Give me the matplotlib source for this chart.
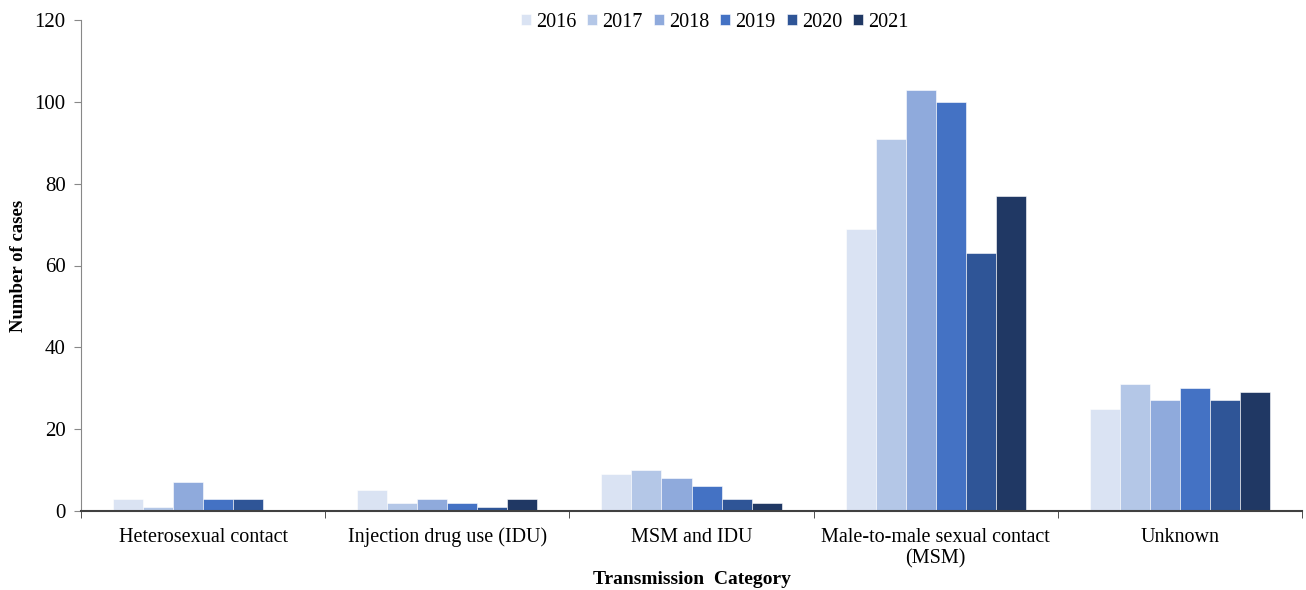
import numpy as np
import matplotlib.pyplot as plt

plt.rcParams["font.family"] = ["Liberation Serif", "DejaVu Serif"]

categories = [
    "Heterosexual contact",
    "Injection drug use (IDU)",
    "MSM and IDU",
    "Male-to-male sexual contact\n(MSM)",
    "Unknown",
]
years = ["2016", "2017", "2018", "2019", "2020", "2021"]
cases_2016 = [3, 5, 9, 69, 25]
cases_2017 = [1, 2, 10, 91, 31]
cases_2018 = [7, 3, 8, 103, 27]
cases_2019 = [3, 2, 6, 100, 30]
cases_2020 = [3, 1, 3, 63, 27]
cases_2021 = [0, 3, 2, 77, 29]
series = [cases_2016, cases_2017, cases_2018, cases_2019, cases_2020, cases_2021]
colors = ["#DAE3F3", "#B4C7E7", "#8FAADC", "#4472C4", "#2F5597", "#203864"]

fig = plt.figure(figsize=(13.06, 5.90), dpi=100)
ax = fig.add_axes([0.062, 0.134, 0.935, 0.832])

x = np.arange(len(categories))
width = 0.123
for i, (vals, year, c) in enumerate(zip(series, years, colors)):
    ax.bar(x + (i - 2.5) * width, vals, width, color=c, label=year,
           edgecolor="white", linewidth=0.4)

ax.set_xlim(-0.5, len(categories) - 0.5)
ax.set_ylim(0, 120)
ax.set_yticks(range(0, 121, 20))
ax.tick_params(axis="y", labelsize=15, direction="out", length=5, pad=6,
               color="#888888")

ax.set_xticks(x)
ax.set_xticklabels(categories, fontsize=14.5, linespacing=1.15)
ax.tick_params(axis="x", length=0, pad=12)
ax.set_xticks(np.arange(-0.5, len(categories), 1.0), minor=True)
ax.tick_params(axis="x", which="minor", length=5, direction="out", color="#333333")

for side in ["top", "right"]:
    ax.spines[side].set_visible(False)
ax.spines["left"].set_color("#888888")
ax.spines["bottom"].set_color("#404040")
ax.spines["bottom"].set_linewidth(1.5)

ax.set_ylabel("Number of cases", fontsize=13.5, fontweight="bold")
ax.yaxis.set_label_coords(-0.044, 0.5)
ax.set_xlabel("Transmission  Category", fontsize=14, fontweight="bold", labelpad=2)

ax.legend(loc="upper center", bbox_to_anchor=(0.519, 1.052), ncol=6, frameon=False,
          fontsize=14.5, handlelength=0.5, handleheight=0.5, handletextpad=0.25,
          columnspacing=0.55)

fig.savefig("out.png", dpi=100)
